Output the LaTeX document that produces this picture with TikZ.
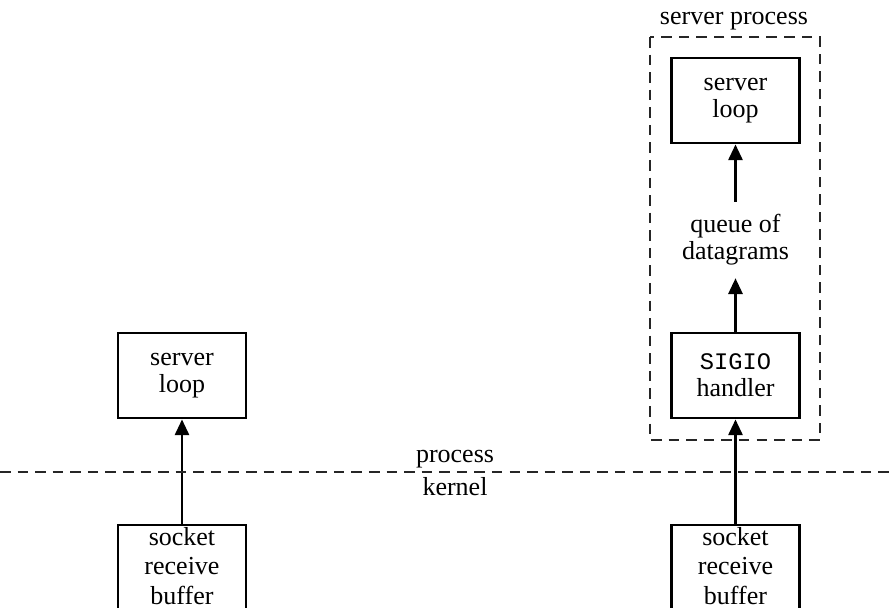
\documentclass[tikz,border=0pt]{standalone}
\usepackage{fontspec}
\setmainfont{Liberation Serif}
\setmonofont{Liberation Mono}
\usepackage{tikz}
\usetikzlibrary{arrows.meta,positioning}

\begin{document}
\begin{tikzpicture}[x=0.02cm,y=-0.02cm,
    boxnode/.style={draw,line width=1.6pt,minimum width=2.56cm,minimum height=1.7cm,
      align=center,font=\fontsize{14.8}{15.5}\selectfont},
    txtnode/.style={align=center,font=\fontsize{14.8}{15.5}\selectfont},
    uparrow/.style={line width=1.6pt,-{Triangle[length=9pt,width=8pt]}},
    dashline/.style={line width=1.6pt,dash pattern=on 6pt off 4pt,gray!30!black}]
      \useasboundingbox (0,0) rectangle (894,608);
      % left side: plain server
      \node[boxnode] (lloop) at (182,375.5) {server\\loop};
      \node[draw,line width=1.6pt,minimum width=2.56cm,minimum height=2.2cm] (lsockbox) at (182,580) {};
      \node[txtnode,font=\fontsize{14.8}{17}\selectfont] (lsock) at (182,566) {socket\\receive\\buffer};
      \draw[uparrow] (lsockbox.north) -- (lloop.south);
      % right side: server with SIGIO handler
      \draw[dashline] (650,37) rectangle (820,440);
      \node[txtnode] (sproc) at (734,21) {server process};
      \node[boxnode] (rloop) at (735.5,100.5) {server\\loop};
      \node[txtnode,inner ysep=7pt] (queue) at (735.5,240) {queue of\\datagrams};
      \node[boxnode] (sigio) at (735.5,375.5) {{\fontsize{13.5}{15.5}\selectfont\texttt{SIGIO}}\\handler};
      \node[draw,line width=1.6pt,minimum width=2.56cm,minimum height=2.2cm] (rsockbox) at (735.5,580) {};
      \node[txtnode,font=\fontsize{14.8}{17}\selectfont] (rsock) at (735.5,566) {socket\\receive\\buffer};
      \draw[uparrow] (queue.north) -- (rloop.south);
      \draw[uparrow] (sigio.north) -- (queue.south);
      \draw[uparrow] (rsockbox.north) -- (sigio.south);
      % process / kernel boundary
      \draw[dashline] (0,472) -- (894,472);
      \node[txtnode] (proc) at (455,459) {process};
      \node[txtnode] (kern) at (455,487) {kernel};
    \end{tikzpicture}
\end{document}
